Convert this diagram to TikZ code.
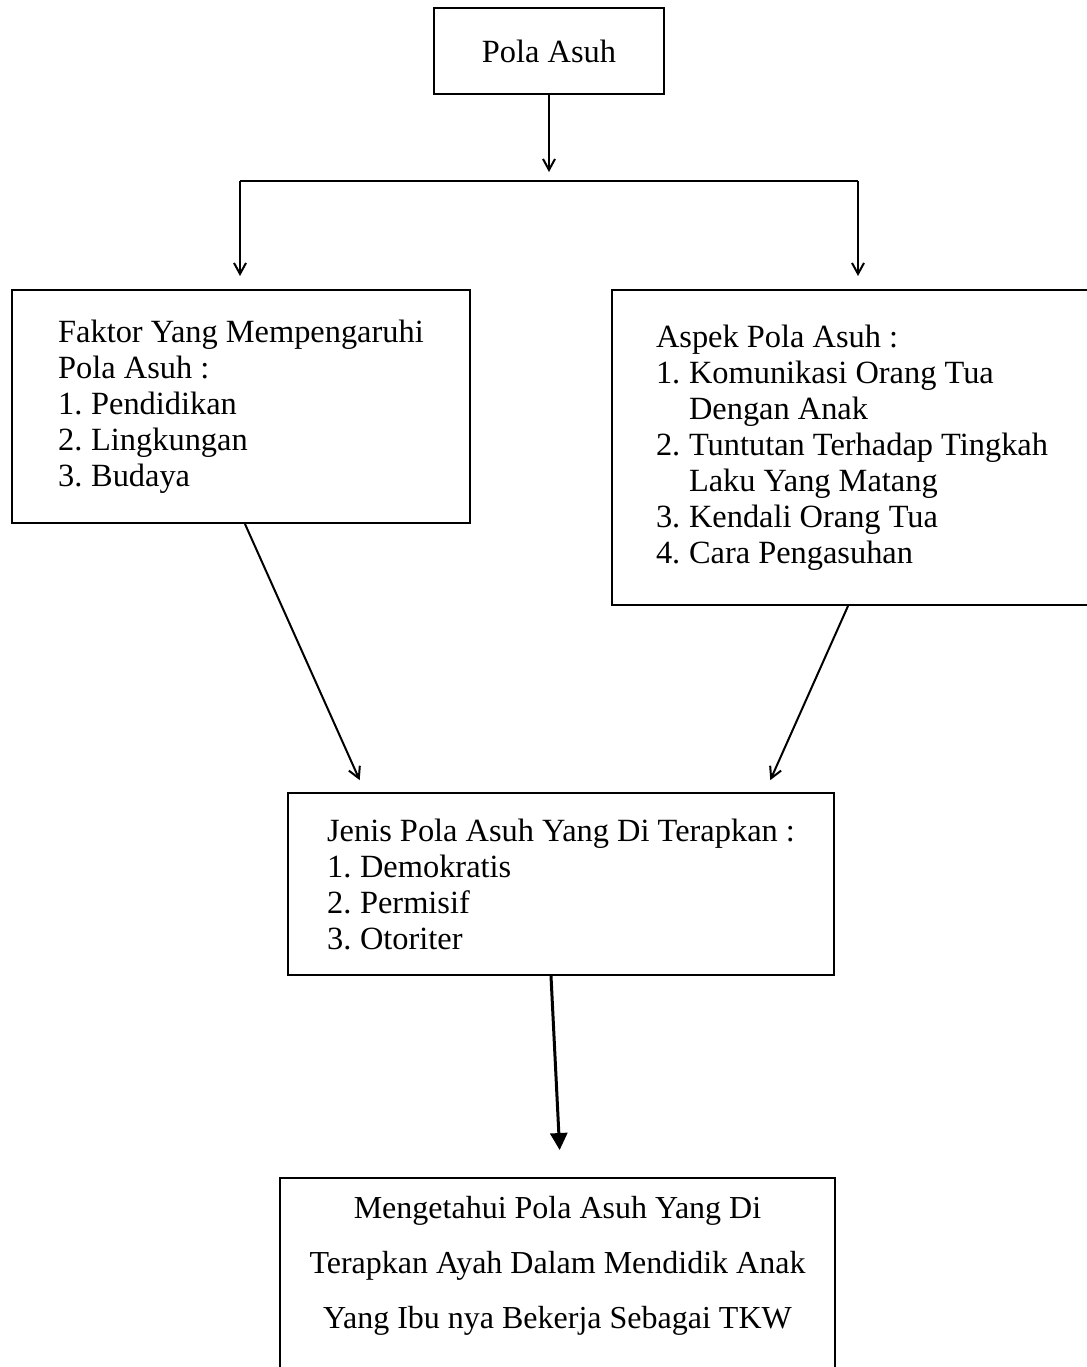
\documentclass[tikz,border=0pt]{standalone}
\usepackage{fontspec}
\setmainfont{Liberation Serif}
\usetikzlibrary{arrows.meta}
\usetikzlibrary{calc}
\usetikzlibrary{positioning}

\tikzset{
  kotak/.style={draw, line width=1pt, align=left, inner sep=0pt,
    font=\fontsize{16.2}{18}\selectfont},
  garis/.style={line width=1pt},
  panah/.style={line width=1pt, -{Straight Barb[length=5.5pt,width=6pt]}},
  panahtebal/.style={line width=1.5pt, -{Triangle[length=8.5pt,width=8.5pt]}},
}
\newcommand{\nomor}[1]{\makebox[16.5pt][l]{#1}}

\begin{document}
\begin{tikzpicture}[x=0.5pt, y=-0.5pt]
  \useasboundingbox (0,0) rectangle (1087,1367);
  \clip (0,0) rectangle (1087,1367);

  \node [kotak, minimum width=115pt, minimum height=43pt] (pola) at (549,51) {Pola Asuh};

  \node [kotak, minimum width=229pt, minimum height=116.5pt] (faktor) at (241,406.5)
    {Faktor Yang Mempengaruhi\\Pola Asuh :\\\nomor{1.}Pendidikan\\\nomor{2.}Lingkungan\\\nomor{3.}Budaya};
  \node [kotak, minimum width=240pt, minimum height=157.5pt] (aspek) at (852,447.5)
    {Aspek Pola Asuh :\\\nomor{1.}Komunikasi Orang Tua\\\nomor{}Dengan Anak\\\nomor{2.}Tuntutan Terhadap Tingkah\\\nomor{}Laku Yang Matang\\\nomor{3.}Kendali Orang Tua\\\nomor{4.}Cara Pengasuhan};

  \node [kotak, minimum width=273pt, minimum height=91pt] (jenis) at (561,884)
    {Jenis Pola Asuh Yang Di Terapkan :\\\nomor{1.}Demokratis\\\nomor{2.}Permisif\\\nomor{3.}Otoriter};

  \node [kotak, anchor=north, align=center, minimum width=277.5pt, inner ysep=9pt, text depth=120pt,
    font=\fontsize{16}{27.5}\selectfont] (hasil) at (557.5,1177)
    {Mengetahui Pola Asuh Yang Di\\Terapkan Ayah Dalam Mendidik Anak\\Yang Ibu nya Bekerja Sebagai TKW};

  \coordinate (cabang) at (549,172);
  \coordinate (kiri) at (240,181);
  \coordinate (kanan) at (858,181);

  \draw [panah] (pola) -- (cabang);
  \draw [garis] (kiri) -- (kanan);
  \draw [panah, shorten >=6.5pt] (kiri) -- (kiri |- faktor.north);
  \draw [panah, shorten >=6.5pt] (kanan) -- (kanan |- aspek.north);
  \draw [panah, shorten >=6.5pt] ([xshift=2pt]faktor.south) -- ([xshift=-98pt]jenis.north);
  \draw [panah, shorten >=6.5pt] ([xshift=-2pt]aspek.south) -- ([xshift=102pt]jenis.north);
  \draw [panahtebal, shorten >=13.5pt] ([xshift=-5pt]jenis.south) -- ([xshift=1.75pt]hasil.north);
\end{tikzpicture}
\end{document}
